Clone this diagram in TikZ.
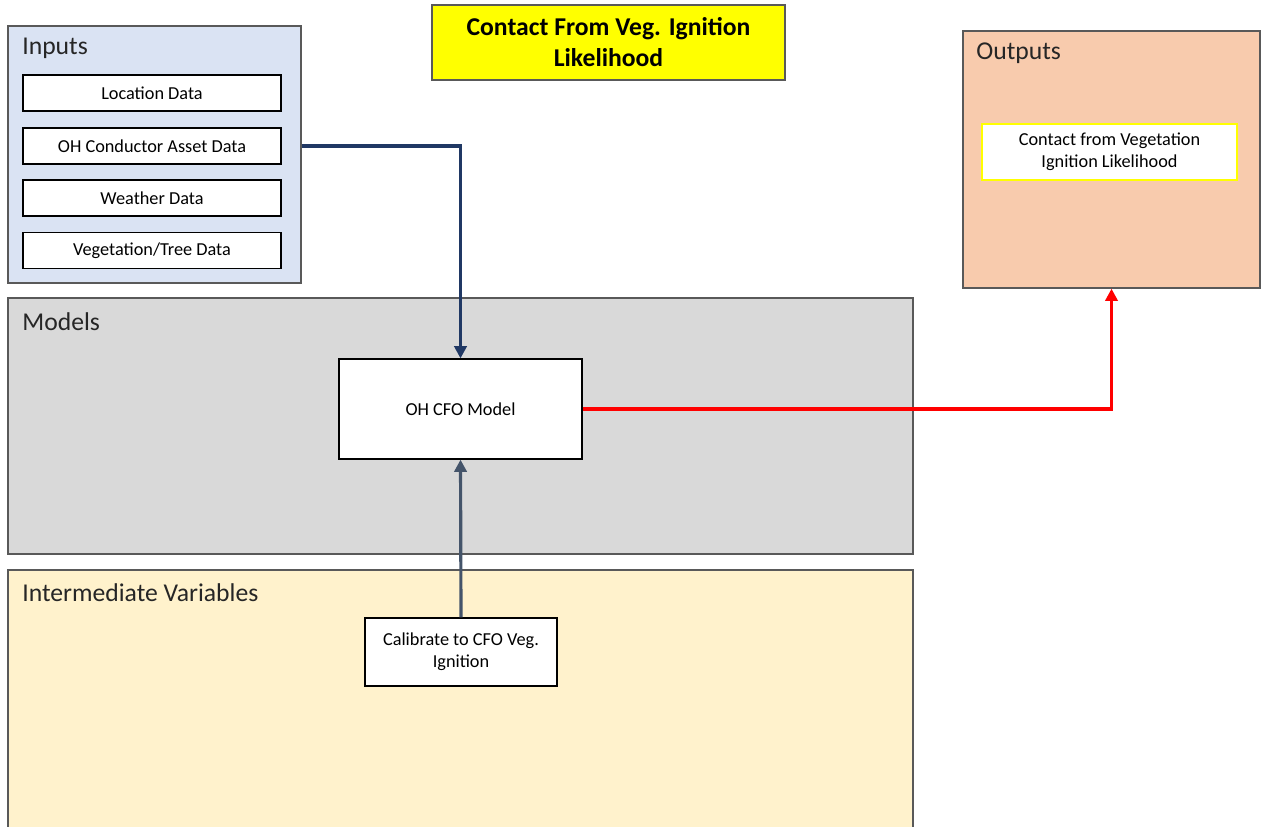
\documentclass[tikz,border=0pt]{standalone}
\usepackage{fontspec}
\setmainfont{Carlito}
\usetikzlibrary{arrows.meta}
\definecolor{inbg}{HTML}{DAE3F3}
\definecolor{outbg}{HTML}{F8CBAD}
\definecolor{modbg}{HTML}{D9D9D9}
\definecolor{intbg}{HTML}{FFF2CC}
\definecolor{frame}{HTML}{595959}
\definecolor{navy}{HTML}{203864}
\definecolor{slate}{HTML}{44546A}
\definecolor{ttlyellow}{HTML}{FFFF00}
\tikzset{
  panel/.style={draw=frame, line width=0.8pt, rectangle, inner sep=0pt},
  itembox/.style={draw=black, fill=white, line width=0.7pt, rectangle, inner sep=0pt, align=center, font=\fontsize{10.4}{12.6}\selectfont},
  paneltitle/.style={anchor=west, inner sep=0pt, font=\fontsize{14.6}{17}\selectfont, text=black!85},
  conn/.style={line width=1.8pt, -{Triangle[length=7pt,width=7pt]}},
}
\begin{document}
\begin{tikzpicture}[x=0.02cm,y=-0.02cm]
\useasboundingbox (0,0) rectangle (1263,826);
% panels
\node[panel, fill=inbg, minimum width=5.86cm, minimum height=5.14cm] (inputs) at (154.5,154.5) {};
\node[panel, fill=outbg, minimum width=5.94cm, minimum height=5.14cm] (outputs) at (1111.5,159.5) {};
\node[panel, fill=modbg, minimum width=18.1cm, minimum height=5.12cm] (models) at (460.5,426) {};
\node[panel, fill=intbg, minimum width=18.1cm, minimum height=5.3cm] (inter) at (460.5,702.5) {};
% panel titles
\node[paneltitle] (tin) at (22,48) {Inputs};
\node[paneltitle] (tout) at (976,53) {Outputs};
\node[paneltitle] (tmod) at (22,322) {Models};
\node[paneltitle] (tint) at (22,593) {Intermediate Variables};
% title
\node[draw=frame, fill=ttlyellow, line width=0.8pt, minimum width=7.06cm, minimum height=1.5cm, align=center, font=\fontsize{14.6}{17.6}\selectfont\bfseries] (title) at (608.5,42.5) {Contact From Veg. Ignition\\Likelihood};
% input items
\node[itembox, minimum width=5.16cm, minimum height=0.72cm] (loc) at (152,93) {Location Data};
\node[itembox, minimum width=5.16cm, minimum height=0.72cm] (oh) at (152,146) {OH Conductor Asset Data};
\node[itembox, minimum width=5.16cm, minimum height=0.72cm] (wx) at (152,198) {Weather Data};
\node[itembox, minimum width=5.16cm, minimum height=0.72cm] (veg) at (152,250.5) {Vegetation/Tree Data};
% output item
\node[itembox, draw=ttlyellow, minimum width=5.1cm, minimum height=1.12cm] (outitem) at (1109.5,152) {Contact from Vegetation\\Ignition Likelihood};
% model
\node[itembox, minimum width=4.86cm, minimum height=2.0cm] (cfo) at (460.5,409) {OH CFO Model};
% calibrate
\node[itembox, minimum width=3.84cm, minimum height=1.36cm] (cal) at (461,652) {Calibrate to CFO Veg.\\Ignition};
% connectors
\draw[conn, navy] (inputs.east |- oh.east) -| (cfo.north);
\draw[conn, slate] (cal.north) -- (cfo.south);
\draw[conn, red, line width=2.2pt] (cfo.east) -| (outputs.south);
\end{tikzpicture}
\end{document}
